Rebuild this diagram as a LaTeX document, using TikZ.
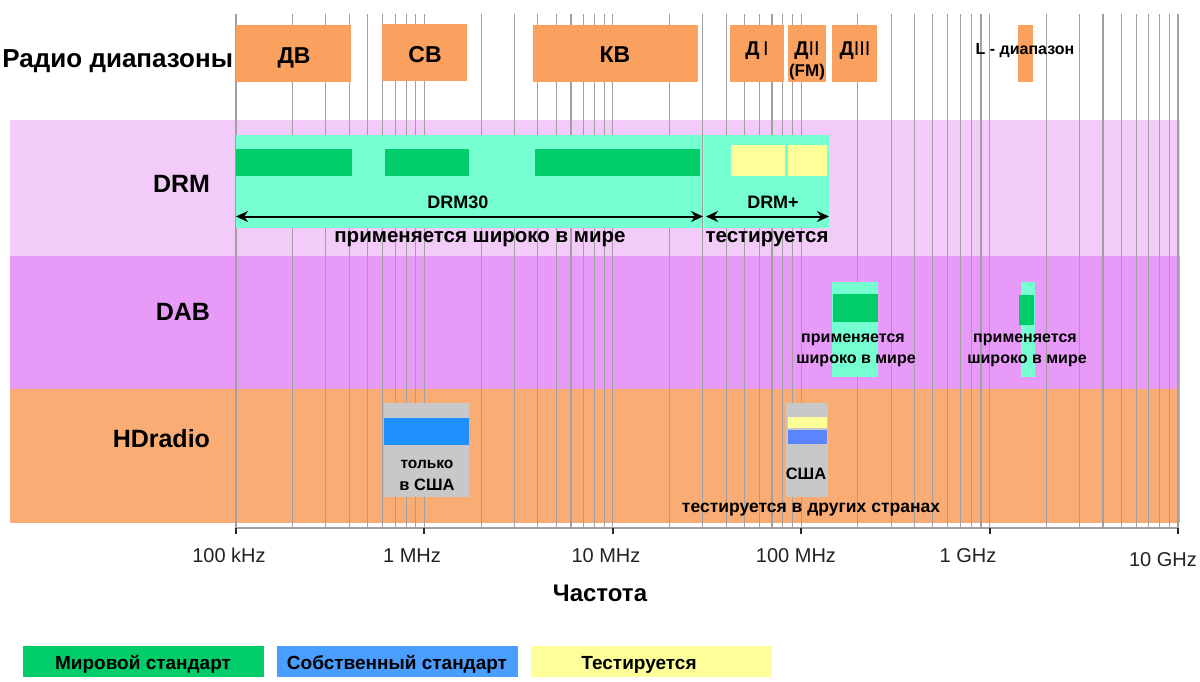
\documentclass[tikz,border=0pt]{standalone}
\usepackage{fontspec}
\setmainfont{Liberation Sans}
\usetikzlibrary{arrows.meta}
\definecolor{boxorange}{HTML}{FBA15F}
\definecolor{drmband}{HTML}{F2CBF8}
\definecolor{dabband}{HTML}{E79AF8}
\definecolor{hdband}{HTML}{F9AD75}
\definecolor{aqua}{HTML}{76FFD0}
\definecolor{stdgreen}{HTML}{00CC6A}
\definecolor{testyellow}{HTML}{FFFF99}
\definecolor{ownblue}{HTML}{1E90FF}
\definecolor{ownblueb}{HTML}{5B84FF}
\definecolor{legblue}{HTML}{4A9EFF}
\definecolor{boxgray}{HTML}{C8C8C8}
\definecolor{gridgray}{HTML}{A0A0A0}
\definecolor{axistext}{HTML}{222222}
\newcommand{\fsz}[1]{\fontsize{#1}{#1}\selectfont}
\tikzset{
  txt/.style={inner sep=0pt, outer sep=0pt, anchor=base},
  rowlbl/.style={txt, anchor=base east, font=\fsz{25}\bfseries},
  bandlbl/.style={txt, font=\fsz{23}\bfseries},
  sublbl/.style={txt, font=\fsz{20}\bfseries},
  drmtxt/.style={txt, font=\fsz{20.5}\bfseries},
  smalltxt/.style={txt, font=\fsz{16}\bfseries},
  freqlbl/.style={txt, font=\fsz{20}, text=axistext},
  legtxt/.style={txt, font=\fsz{19}\bfseries},
  gridline/.style={draw=gridgray, line width=1.1pt},
  dblarrow/.style={line width=2pt, {Stealth[length=12pt,width=11pt]}-{Stealth[length=12pt,width=11pt]}},
  ticklbl/.style={line width=2pt, draw=black!85}
}
\begin{document}
\begin{tikzpicture}[x=1pt,y=-1pt]
\path[use as bounding box, fill=white] (0,0) rectangle (1200,682);

% row bands
\fill[drmband] (10,120) rectangle (1180,256);
\fill[dabband] (10,256) rectangle (1180,389);
\fill[hdband] (10,389) rectangle (1180,523);

% log grid
\foreach \d in {0,...,4}{
  \foreach \m in {1,...,9}{
    \pgfmathsetmacro\xx{236+188.4*(\d+log10(\m))}
    \draw[gridline] (\xx,14) -- (\xx,528);
  }
}
\draw[gridline] (1178,14) -- (1178,528);

% axis
\draw[draw=gridgray, line width=1.1pt] (236,528) -- (1178,528);
\foreach \d in {0,...,5}{
  \draw[ticklbl] (236+188.4*\d,528) -- ++(0,6);
}

% radio bands (top)
\fill[boxorange] (236,25) rectangle (351,82);
\fill[boxorange] (382,24) rectangle (467,81);
\fill[boxorange] (533,25) rectangle (698,82);
\fill[boxorange] (730,25) rectangle (784,82);
\fill[boxorange] (788,25) rectangle (826,82);
\fill[boxorange] (832,25) rectangle (877,82);
\fill[boxorange] (1018,25) rectangle (1033,82);

\node[rowlbl, font=\fsz{26}\bfseries] (radio) at (233,68) {Радио диапазоны};
\node[bandlbl] (dv) at (294,64) {ДВ};
\node[bandlbl] (sv) at (425,63) {СВ};
\node[bandlbl] (kv) at (615,63) {КВ};
\node[sublbl] (d1) at (757,56) {Д\,{\mdseries I}};
\node[sublbl] (d2) at (807,56) {Д{\mdseries II}};
\node[txt, font=\fsz{17}\bfseries] (fm) at (807,77) {(FM)};
\node[sublbl] (d3) at (855,56) {Д{\mdseries III}};
\node[txt, font=\fsz{16}\bfseries] (lband) at (1025,55) {L - диапазон};

% DRM row
\fill[aqua] (236,135) rectangle (702,228);
\fill[aqua] (704,135) rectangle (829,228);
\fill[stdgreen] (236,149) rectangle (351.5,176);
\fill[stdgreen] (384.5,149) rectangle (469,176);
\fill[stdgreen] (535,149) rectangle (700,176);
\fill[testyellow] (731,145) rectangle (785,176);
\fill[testyellow] (787.5,145) rectangle (827,176);
\draw[gridline] (702.7,135) -- (702.7,228);

\node[rowlbl] (drm) at (210,193) {DRM};
\node[txt, font=\fsz{18}\bfseries] (drm30) at (458,208) {DRM30};
\node[txt, font=\fsz{18}\bfseries] (drmplus) at (773,208) {DRM+};
\coordinate (a1) at (236,216.5);
\coordinate (a2) at (703,216.5);
\coordinate (b1) at (706,216.5);
\coordinate (b2) at (829,216.5);
\draw[dblarrow] (a1) -- (a2);
\draw[dblarrow] (b1) -- (b2);
\node[drmtxt] (drmwide) at (480,242) {применяется широко в мире};
\node[drmtxt] (drmtest) at (767,242) {тестируется};

% DAB row
\node[rowlbl] (dab) at (210,320) {DAB};
\fill[aqua] (832,282) rectangle (878,377);
\fill[stdgreen] (833,294) rectangle (878,322);
\fill[aqua] (1021,282) rectangle (1035,377);
\fill[stdgreen] (1019,295) rectangle (1034,325);
\node[smalltxt] (dabA1) at (853,342) {применяется};
\node[smalltxt] (dabA2) at (856,363) {широко в мире};
\node[smalltxt] (dabB1) at (1025,342) {применяется};
\node[smalltxt] (dabB2) at (1027,363) {широко в мире};

% HDradio row
\node[rowlbl] (hd) at (210,447) {HDradio};
\fill[boxgray] (384,403) rectangle (469,497);
\fill[ownblue] (384,418) rectangle (469,445);
\fill[boxgray] (786,403) rectangle (828,497);
\fill[testyellow] (787.5,417) rectangle (827,428);
\fill[ownblueb] (787.5,429.5) rectangle (827,444);
\node[txt, font=\fsz{15.5}\bfseries] (only) at (427,468) {только};
\node[txt, font=\fsz{16.5}\bfseries] (inusa) at (427,490) {в США};
\node[txt, font=\fsz{16.5}\bfseries] (usa) at (806,479) {США};
\node[txt, font=\fsz{17.5}\bfseries] (hdtest) at (811,512) {тестируется в других странах};

% axis labels
\node[freqlbl] (f1) at (229,562) {100 kHz};
\node[freqlbl] (f2) at (412,562) {1 MHz};
\node[freqlbl] (f3) at (606,562) {10 MHz};
\node[freqlbl] (f4) at (796,562) {100 MHz};
\node[freqlbl] (f5) at (968,562) {1 GHz};
\node[freqlbl] (f6) at (1163,566) {10 GHz};
\node[txt, font=\fsz{24}\bfseries] (freq) at (600,601) {Частота};

% legend
\fill[stdgreen] (23,646) rectangle (264,677);
\fill[legblue] (277,646) rectangle (518,677);
\fill[testyellow] (531,646) rectangle (772,677);
\node[legtxt] (leg1) at (143,669) {Мировой стандарт};
\node[legtxt] (leg2) at (397,669) {Собственный стандарт};
\node[legtxt] (leg3) at (639,669) {Тестируется};
\end{tikzpicture}
\end{document}
